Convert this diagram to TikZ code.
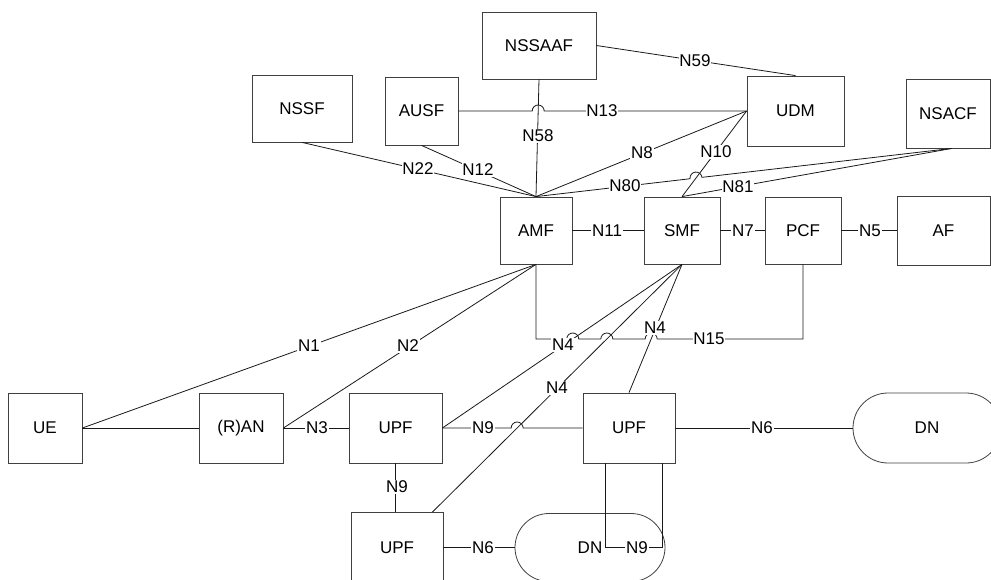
\documentclass[tikz,border=0pt]{standalone}
\usepackage{fontspec}
\setmainfont{Liberation Sans}
\usetikzlibrary{calc,intersections}
\begin{document}
\begin{tikzpicture}[x=1pt,y=-1pt,
  nf/.style={draw=black!75, line width=0.8pt, inner sep=0pt, font=\fontsize{17}{20}\selectfont, text=black},
  conn/.style={draw=black!90, line width=0.8pt},
  lbl/.style={fill=white, inner sep=0.8pt, font=\fontsize{17}{20}\selectfont, text=black}]
\useasboundingbox (0,0) rectangle (991,580);
% nodes
\node[nf,minimum width=114pt,minimum height=67pt] (nssaaf) at (539,45.5) {NSSAAF};
\node[nf,minimum width=100pt,minimum height=67pt] (nssf) at (302,108.5) {NSSF};
\node[nf,minimum width=73pt,minimum height=68pt] (ausf) at (421.5,111) {AUSF};
\node[nf,minimum width=97pt,minimum height=70pt] (udm) at (795.5,111) {UDM};
\node[nf,minimum width=84pt,minimum height=69pt] (nsacf) at (948,113.5) {NSACF};
\node[nf,minimum width=72pt,minimum height=67pt] (amf) at (536,230.5) {AMF};
\node[nf,minimum width=76pt,minimum height=67pt] (smf) at (682,230.5) {SMF};
\node[nf,minimum width=76pt,minimum height=67pt] (pcf) at (803,230.5) {PCF};
\node[nf,minimum width=93pt,minimum height=69pt] (af) at (943.5,230.5) {AF};
\node[nf,minimum width=74pt,minimum height=70pt] (ue) at (45,428) {UE};
\node[nf,minimum width=84pt,minimum height=70pt] (ran) at (241,428) {(R)AN};
\node[nf,minimum width=93pt,minimum height=70pt] (upf1) at (395.5,428) {UPF};
\node[nf,minimum width=92pt,minimum height=70pt] (upf2) at (629,428) {UPF};
\node[nf,minimum width=92pt,minimum height=70pt] (upf3) at (397,547.5) {UPF};
\node[nf,rounded corners=34pt,minimum width=150pt,minimum height=68pt] (dnb) at (590,547.5) {DN};
\node[nf,rounded corners=35pt,minimum width=148pt,minimum height=70pt] (dnr) at (927,428) {DN};
% helper coordinates
\coordinate (nsacfp) at ([xshift=4pt]nsacf.south);
\coordinate (upf3p) at ([xshift=-11pt]upf3.north east);
\coordinate (n15l) at (536,339);
\coordinate (n15r) at (803,339);
\coordinate (la) at ([xshift=23pt]upf2.south west);
\coordinate (lb) at ([xshift=-13pt]upf2.south east);
% crossing points
\path[name path=p58] (nssaaf.south) -- (amf.north);
\path[name path=p13] (ausf.east) -- (udm.west);
\path[name intersections={of=p58 and p13,by=h13}];
\path[name path=p10] (udm.west) -- (smf.north);
\path[name path=p80] (amf.north) -- (nsacfp);
\path[name intersections={of=p10 and p80,by=h80}];
\path[name path=p4a] (smf.south) -- (upf1.east);
\path[name path=p4b] (smf.south) -- (upf3p);
\path[name path=p4c] (smf.south) -- (upf2.north);
\path[name path=p15] (n15l) -- (n15r);
\path[name intersections={of=p4a and p15,by=ha}];
\path[name intersections={of=p4b and p15,by=hb}];
\path[name intersections={of=p4c and p15,by=hc}];
\path[name path=p9] (upf1.east) -- (upf2.west);
\path[name intersections={of=p4b and p9,by=hd}];
% connectors
\draw[conn] (ausf.east) -- ([xshift=-6pt]h13) arc[start angle=180,end angle=0,radius=6pt] -- (udm.west);
\draw[conn] (nssaaf.south) -- (amf.north);
\draw[conn] (nssaaf.east) -- (udm.north);
\draw[conn] (nssf.south) -- (amf.north);
\draw[conn] (ausf.south) -- (amf.north);
\draw[conn] (udm.west) -- (amf.north);
\draw[conn] (udm.west) -- (smf.north);
\draw[conn] (amf.north) -- ($(h80)!6pt!(amf.north)$) arc[start angle=186.7,end angle=6.7,radius=6pt] -- (nsacfp);
\draw[conn] (smf.north) -- (nsacfp);
\draw[conn] (amf.east) -- (smf.west);
\draw[conn] (smf.east) -- (pcf.west);
\draw[conn] (pcf.east) -- (af.west);
\draw[conn] (ue.east) -- (amf.south);
\draw[conn] (ran.east) -- (amf.south);
\draw[conn] (ue.east) -- (ran.west);
\draw[conn] (ran.east) -- (upf1.west);
\draw[conn] (upf1.east) -- ([xshift=-6pt]hd) arc[start angle=180,end angle=0,radius=6pt] -- (upf2.west);
\draw[conn] (upf2.east) -- (dnr.west);
\draw[conn] (upf1.south) -- (upf1.south |- upf3.north);
\draw[conn] (upf3.east) -- (dnb.west);
\draw[conn] (smf.south) -- (upf1.east);
\draw[conn] (smf.south) -- (upf3p);
\draw[conn] (smf.south) -- (upf2.north);
\draw[conn] (amf.south) -- (n15l)
  -- ([xshift=-6pt]ha) arc[start angle=180,end angle=0,radius=6pt]
  -- ([xshift=-6pt]hb) arc[start angle=180,end angle=0,radius=6pt]
  -- ([xshift=-6pt]hc) arc[start angle=180,end angle=0,radius=6pt]
  -- (n15r) -- (pcf.south);
\draw[conn] (la) -- (la |- dnb.center) -- (lb |- dnb.center) -- (lb);
% labels
\node[lbl] (l13) at (602,111) {N13};
\node[lbl] (l58) at (538,136) {N58};
\node[lbl] (l59) at (695,61) {N59};
\node[lbl] (l22) at (418,169) {N22};
\node[lbl] (l12) at (478,170) {N12};
\node[lbl] (l8) at (642,153) {N8};
\node[lbl] (l10) at (716,152) {N10};
\node[lbl] (l80) at (625,186) {N80};
\node[lbl] (l81) at (738,187) {N81};
\node[lbl] (l11) at (607,230.5) {N11};
\node[lbl] (l7) at (743,230.5) {N7};
\node[lbl] (l5) at (870,230.5) {N5};
\node[lbl] (l1) at (309,346) {N1};
\node[lbl] (l2) at (408,346) {N2};
\node[lbl] (l4a) at (563,345) {N4};
\node[lbl] (l4b) at (557,388) {N4};
\node[lbl] (l4c) at (655,328) {N4};
\node[lbl] (l15) at (709,339) {N15};
\node[lbl] (l3) at (317,428) {N3};
\node[lbl] (l9a) at (483,428) {N9};
\node[lbl] (l6a) at (762,428) {N6};
\node[lbl] (l9b) at (397,487) {N9};
\node[lbl] (l6b) at (483,547.5) {N6};
\node[lbl] (l9c) at (637,548) {N9};
\end{tikzpicture}
\end{document}
